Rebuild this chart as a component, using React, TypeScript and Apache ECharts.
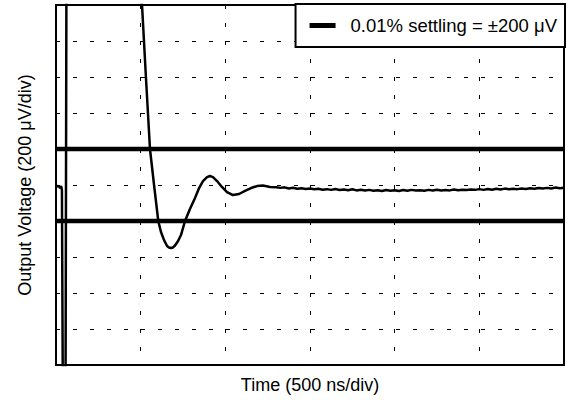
import React, { useEffect, useRef } from "react";
import * as echarts from "echarts";

const FONT = '"Liberation Sans", Arial, Helvetica, sans-serif';
const X_AXIS_TITLE = "Time (500 ns/div)";
const Y_AXIS_TITLE = "Output Voltage (200 μV/div)";
const SETTLING_LABEL = "0.01% settling = ±200 μV";
const X_RANGE_NS = [0, 3000];
const X_STEP_NS = 500;
const Y_RANGE_UV = [-1000, 1000];
const Y_STEP_UV = 200;
const SETTLING_BAND_UV = [200, -200];

// Oscilloscope trace (time in ns, output in µV); values outside the screen are clipped
const traceTimeNs = [
  0, 9, 18, 24, 30, 35, 41, 56, 62, 484, 508, 531, 555, 579, 604, 620, 638, 656, 667, 679,
  691, 703, 721, 738, 762, 791, 821, 845, 868, 892, 909, 927, 951, 980, 1010, 1045, 1081,
  1116, 1152, 1187, 1222, 1264,
  1300, 1325, 1350, 1375, 1400, 1425, 1450, 1475, 1500, 1525, 1550, 1575, 1600, 1625, 1650,
  1675, 1700, 1725, 1750, 1775, 1800, 1825, 1850, 1875, 1900, 1925, 1950, 1975, 2000, 2025,
  2050, 2075, 2100, 2125, 2150, 2175, 2200, 2225, 2250, 2275, 2300, 2325, 2350, 2375, 2400,
  2425, 2450, 2475, 2500, 2525, 2550, 2575, 2600, 2625, 2650, 2675, 2700, 2725, 2750, 2775,
  2800, 2825, 2850, 2875, 2900, 2925, 2950, 2975, 3000,
];
const traceOutputUv = [
  -11, -6, -8, -17, -6, -28, -1300, -1300, 1300, 1400, 1000, 600, 200, 0, -200, -261, -306, -339, -347, -350,
  -347, -336, -311, -278, -200, -133, -72, -17, 22, 44, 50, 44, 22, -11, -39, -56, -50,
  -33, -17, -6, -3, -11,
  -12, -16, -13, -19, -15, -21, -18, -22, -20, -24, -21, -26, -23, -27, -22,
  -28, -25, -29, -24, -30, -26, -31, -27, -32, -29, -33, -28, -32, -29, -33,
  -28, -32, -27, -31, -29, -32, -27, -31, -26, -30, -28, -30, -25, -29, -26,
  -28, -25, -27, -23, -27, -22, -26, -21, -25, -20, -24, -21, -23, -19, -22,
  -18, -21, -17, -20, -16, -19, -14, -18, -15,
];

export default function App() {
  const ref = useRef<HTMLDivElement>(null);

  useEffect(() => {
    document.body.style.margin = "0";
    if (!ref.current) return;
    const chart = echarts.init(ref.current, undefined, { renderer: "svg" });

    const traceData = traceTimeNs.map((t, i) => [t, traceOutputUv[i]]);
    const settlingSeries = SETTLING_BAND_UV.map((v) => ({
      name: SETTLING_LABEL,
      type: "line",
      data: [
        [X_RANGE_NS[0], v],
        [X_RANGE_NS[1], v],
      ],
      symbol: "none",
      lineStyle: { color: "#000", width: 4.5 },
      itemStyle: { color: "#000" },
      z: 3,
    }));

    chart.setOption({
      animation: false,
      backgroundColor: "#fff",
      textStyle: { fontFamily: FONT, color: "#000" },
      grid: {
        left: 56,
        right: 6,
        top: 5,
        bottom: 35,
        show: true,
        borderColor: "#000",
        borderWidth: 2,
        backgroundColor: "transparent",
      },
      legend: {
        data: [{ name: SETTLING_LABEL, icon: "rect" }],
        right: 5,
        top: 4,
        itemWidth: 26,
        itemHeight: 5,
        padding: [12, 8, 12, 14],
        backgroundColor: "#fff",
        borderColor: "#000",
        borderWidth: 2,
        borderRadius: 0,
        formatter: (name: string) => `{t|${name}}`,
        textStyle: {
          rich: {
            t: { fontFamily: FONT, fontSize: 18.5, color: "#000", padding: [0, 0, 0, 10] },
          },
        },
      },
      xAxis: {
        type: "value",
        min: X_RANGE_NS[0],
        max: X_RANGE_NS[1],
        interval: X_STEP_NS,
        name: X_AXIS_TITLE,
        nameLocation: "middle",
        nameGap: 11,
        nameTextStyle: { fontFamily: FONT, fontSize: 18, color: "#000", verticalAlign: "top" },
        axisLine: { show: false },
        axisTick: { show: false },
        axisLabel: { show: false },
        splitLine: { show: true, lineStyle: { color: "#000", width: 1, type: [4, 14] } },
      },
      yAxis: {
        type: "value",
        min: Y_RANGE_UV[0],
        max: Y_RANGE_UV[1],
        interval: Y_STEP_UV,
        name: Y_AXIS_TITLE,
        nameLocation: "middle",
        nameRotate: 90,
        nameGap: 22,
        nameTextStyle: { fontFamily: FONT, fontSize: 18, color: "#000" },
        axisLine: { show: false },
        axisTick: { show: false },
        axisLabel: { show: false },
        splitLine: { show: true, lineStyle: { color: "#000", width: 1, type: [4, 13] } },
      },
      series: [
        ...settlingSeries,
        {
          name: "Output",
          type: "line",
          data: traceData,
          symbol: "none",
          clip: true,
          lineStyle: { color: "#000", width: 2.5 },
          z: 4,
        },
      ],
    });

    return () => chart.dispose();
  }, []);

  return <div ref={ref} style={{ width: 570, height: 400 }} />;
}
